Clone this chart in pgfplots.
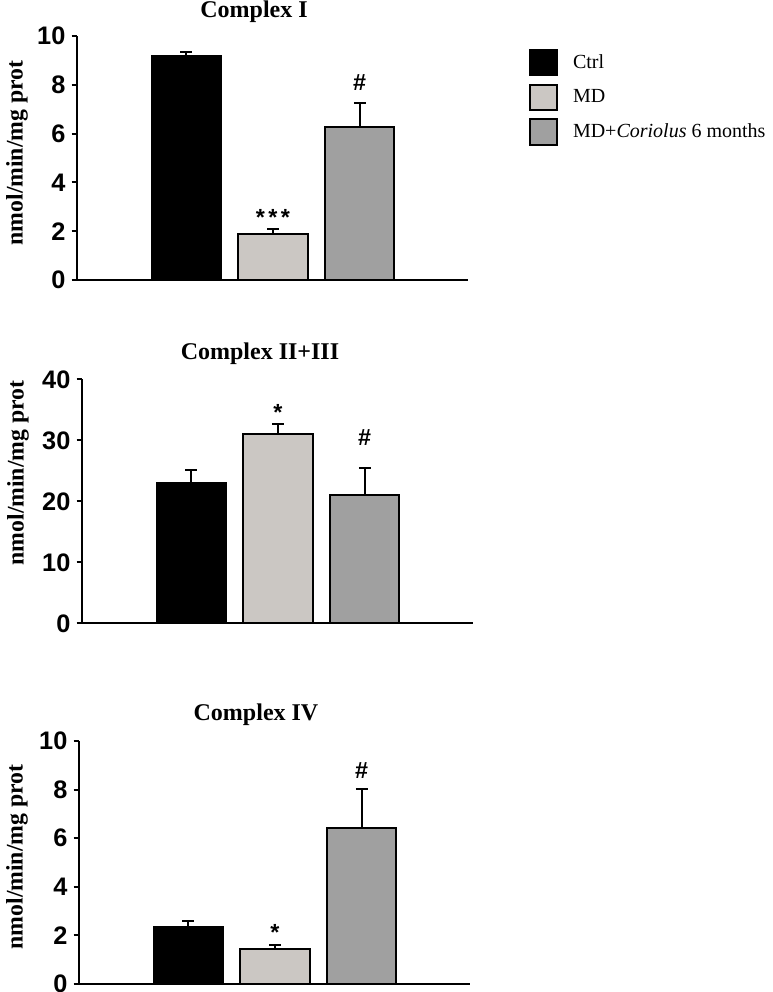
\documentclass[border=0pt]{standalone}
\usepackage{fontspec}
\setmainfont{Liberation Serif}
\newfontfamily\arialfont{Liberation Sans}
\usepackage{pgfplots}
\pgfplotsset{compat=1.18}
\definecolor{mdgray}{RGB}{203,199,195}
\definecolor{mdcgray}{RGB}{160,160,160}
\tikzset{ann/.style={font=\arialfont\bfseries\fontsize{17.5}{19}\selectfont, anchor=base},
  ttl/.style={anchor=base, inner sep=0pt, font=\bfseries\fontsize{18}{21}\selectfont}}
\pgfplotsset{
 boxlegend/.style={legend image code/.code={\draw[##1,line width=1.5pt] (0pt,-9.5pt) rectangle (20.5pt,9.5pt);}},
 panel/.style={scale only axis, width=293.25pt, xmin=-0.26, xmax=4.25, ymin=0,
   axis x line*=bottom, axis y line*=left,
   axis line style={-, line width=1.5pt, black},
   xtick=\empty, ytick pos=left, tick align=outside, major tick length=4pt,
   every tick/.style={line width=1.5pt, black},
   /pgf/number format/assume math mode=true,
   yticklabel style={font=\arialfont\bfseries\fontsize{19}{21}\selectfont, inner sep=4.5pt},
   clip=false},
 bar/.style={ybar, bar width=0.8, bar shift=0pt, line width=1.5pt, draw=black,
   error bars/y dir=plus, error bars/y explicit,
   error bars/error bar style={line width=1.5pt, black},
   error bars/error mark options={rotate=90, line width=1.5pt, black, mark size=4.4pt}},
}
\begin{document}
\begin{tikzpicture}
\useasboundingbox (0,0) rectangle (579.75pt,744pt);
% Panel 1
\begin{axis}[panel, at={(57.75pt,534pt)}, anchor=south west, height=183pt, ymax=10, ytick={0,2,...,10},
  legend style={at={(axis description cs:1.156,0.947)}, anchor=north west, draw=none, fill=none,
    inner sep=0pt, outer sep=0pt, row sep=5.5pt, font=\fontsize{15}{18}\selectfont,
    /tikz/every odd column/.append style={column sep=9pt}},
  legend cell align=left]
\addlegendimage{boxlegend, fill=black, draw=black}
\addlegendentry{Ctrl}
\addlegendimage{boxlegend, fill=mdgray, draw=black}
\addlegendentry{MD}
\addlegendimage{boxlegend, fill=mdcgray, draw=black}
\addlegendentry{MD+\textit{Coriolus} 6 months}
\addplot[bar, fill=black, forget plot] coordinates {(1,9.18) +- (0,0.18)};
\addplot[bar, fill=mdgray, forget plot] coordinates {(2,1.87) +- (0,0.22)};
\addplot[bar, fill=mdcgray, forget plot] coordinates {(3,6.27) +- (0,0.97)};
\node[ann] at (axis cs:2,2.25) {*\kern2.6pt*\kern2.6pt*};
\node[ann] at (axis cs:3,7.75) {\#};
\end{axis}
% Panel 2
\begin{axis}[panel, at={(61.5pt,276.5pt)}, anchor=south west, height=183pt, ymax=40, ytick={0,10,...,40}]
\addplot[bar, fill=black] coordinates {(1,22.95) +- (0,2.15)};
\addplot[bar, fill=mdgray] coordinates {(2,31.1) +- (0,1.5)};
\addplot[bar, fill=mdcgray] coordinates {(3,21.0) +- (0,4.5)};
\node[ann] at (axis cs:2,33.3) {*};
\node[ann] at (axis cs:3,29.2) {\#};
\end{axis}
% Panel 3
\begin{axis}[panel, at={(59.25pt,6pt)}, anchor=south west, height=182.25pt, ymax=10, ytick={0,2,...,10}]
\addplot[bar, fill=black] coordinates {(1,2.33) +- (0,0.27)};
\addplot[bar, fill=mdgray] coordinates {(2,1.43) +- (0,0.18)};
\addplot[bar, fill=mdcgray] coordinates {(3,6.43) +- (0,1.59)};
\node[ann] at (axis cs:2,1.81) {*};
\node[ann] at (axis cs:3,8.44) {\#};
\end{axis}
% titles
\node[ttl] at (190.5pt,731pt) {Complex I};
\node[ttl] at (195pt,474.5pt) {Complex II+III};
\node[ttl] at (192pt,203.5pt) {Complex IV};
% y labels
\node[rotate=90, font=\bfseries\fontsize{17.8}{20}\selectfont] at (12.75pt,629.25pt) {nmol/min/mg prot};
\node[rotate=90, font=\bfseries\fontsize{17.8}{20}\selectfont] at (13.5pt,389.25pt) {nmol/min/mg prot};
\node[rotate=90, font=\bfseries\fontsize{17.8}{20}\selectfont] at (12.75pt,101.25pt) {nmol/min/mg prot};
\end{tikzpicture}
\end{document}
